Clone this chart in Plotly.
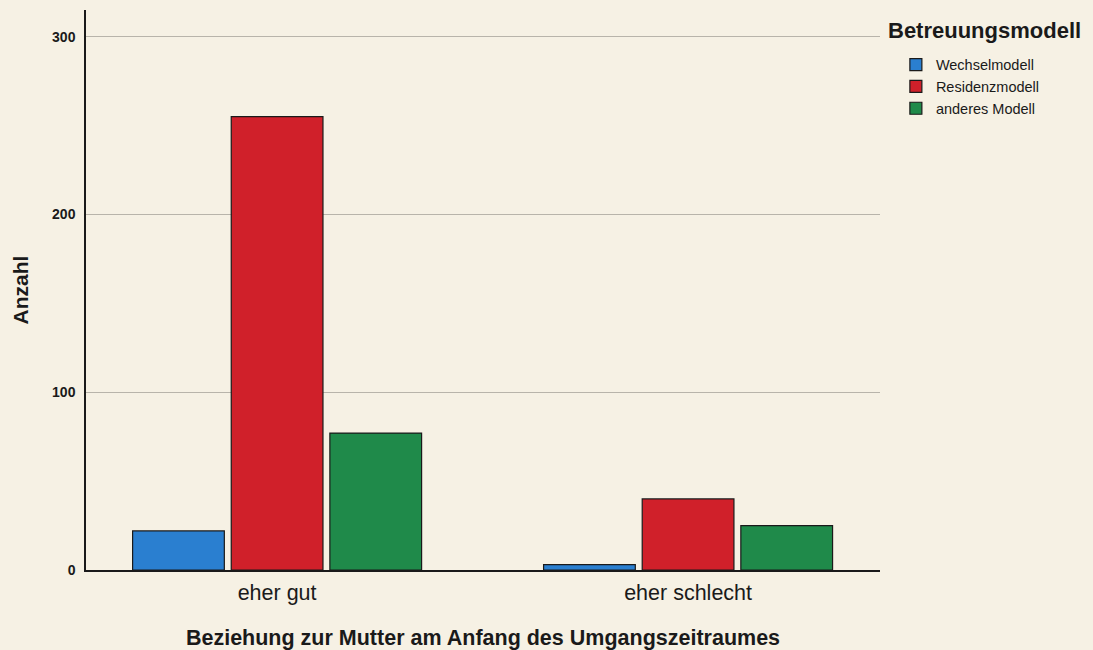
import plotly.graph_objects as go

# Data
categories = ["eher gut", "eher schlecht"]
series_names = ["Wechselmodell", "Residenzmodell", "anderes Modell"]
wechsel = [22, 3]
residenz = [255, 40]
anderes = [77, 25]
colors = ["#2a7fd0", "#d0202a", "#1f8a4a"]
y_ticks = [0, 100, 200, 300]

BG = "#f6f1e4"
FONT = "Liberation Sans, Arial, sans-serif"

fig = go.Figure()
for name, vals, col in zip(series_names, [wechsel, residenz, anderes], colors):
    fig.add_trace(go.Bar(
        x=categories, y=vals, name=name,
        marker=dict(color=col, line=dict(color="#1a1a1a", width=1.2)),
    ))

fig.update_layout(
    width=1093, height=650,
    paper_bgcolor=BG, plot_bgcolor=BG,
    font=dict(family=FONT, color="#1a1a1a"),
    barmode="group", bargap=0.28, bargroupgap=0.07,
    margin=dict(l=86, r=213, t=10, b=80),
    showlegend=True,
    legend=dict(
        x=1.02, xanchor="left", y=0.931, yanchor="top",
        font=dict(size=14.5), bgcolor="rgba(0,0,0,0)",
        itemwidth=30, tracegroupgap=0,
    ),
    xaxis=dict(
        type="category", range=[-0.465, 1.467], automargin=False,
        showline=True, linecolor="#1a1a1a", linewidth=1.5,
        ticks="outside", ticklen=2, tickcolor="rgba(0,0,0,0)", tickfont=dict(size=21.5),
        title=dict(text="<b>Beziehung zur Mutter am Anfang des Umgangszeitraumes</b>",
                   font=dict(size=21.5), standoff=26),
        showgrid=False,
    ),
    yaxis=dict(
        range=[0, 315], tickvals=y_ticks, automargin=False,
        ticktext=[f"<b>{v}</b>" for v in y_ticks],
        tickfont=dict(size=14),
        ticks="outside", ticklen=6, tickcolor="rgba(0,0,0,0)",
        showline=True, linecolor="#1a1a1a", linewidth=1.5,
        showgrid=True, gridcolor="#b8b4aa", gridwidth=1.2,
        zeroline=False,
        title=dict(text="<b>Anzahl</b>", font=dict(size=21), standoff=18),
    ),
    annotations=[dict(
        text="<b>Betreuungsmodell</b>", xref="paper", yref="paper",
        x=1.0, y=1.0, xanchor="left", yanchor="top", xshift=6, yshift=-6,
        showarrow=False, font=dict(size=22),
    )],
)

fig.write_html(
    "out.html",
    config={"displayModeBar": False},
    post_script="document.body.style.margin='0';document.body.style.background='%s';" % BG,
)
